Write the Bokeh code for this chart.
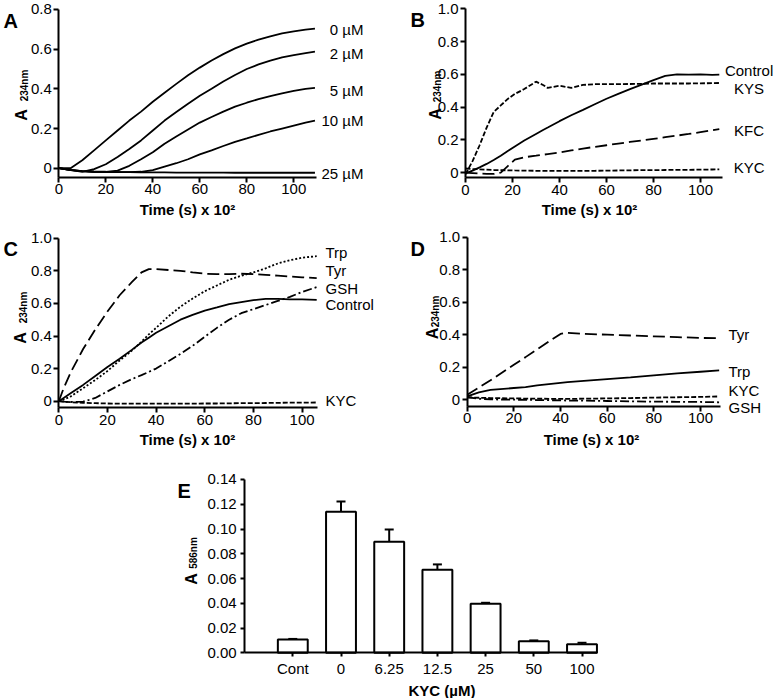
from math import pi
from bokeh.plotting import figure
from bokeh.models import Label, FixedTicker, Range1d, Whisker, ColumnDataSource, TeeHead, NumeralTickFormatter
from bokeh.layouts import column, row
from bokeh.embed import file_html
from bokeh.resources import INLINE

FONT = "Liberation Sans"

# ---------------- data ----------------
a_time = [0, 5, 10, 15, 20, 25, 30, 35, 40, 45, 50, 55, 60, 65, 70, 75, 80, 85, 90, 95, 100, 105, 109]
a_0uM = [0.0, 0.0, 0.04, 0.09, 0.14, 0.19, 0.24, 0.285, 0.335, 0.38, 0.425, 0.468, 0.507, 0.543, 0.575, 0.604, 0.628, 0.648, 0.665, 0.68, 0.69, 0.698, 0.703]
a_2uM = [0.0, -0.008, -0.018, -0.005, 0.02, 0.057, 0.097, 0.14, 0.19, 0.24, 0.283, 0.325, 0.365, 0.4, 0.437, 0.47, 0.5, 0.523, 0.542, 0.558, 0.57, 0.58, 0.588]
a_5uM = [0.0, -0.008, -0.015, -0.018, -0.018, -0.012, 0.012, 0.045, 0.08, 0.123, 0.16, 0.195, 0.23, 0.258, 0.285, 0.31, 0.33, 0.348, 0.363, 0.377, 0.39, 0.4, 0.405]
a_10uM = [0.0, -0.01, -0.015, -0.018, -0.02, -0.02, -0.02, -0.018, -0.01, 0.008, 0.025, 0.045, 0.07, 0.09, 0.112, 0.133, 0.15, 0.168, 0.185, 0.2, 0.215, 0.23, 0.24]
a_25uM = [0.0, -0.01, -0.015, -0.018, -0.019, -0.02, -0.02, -0.021, -0.021, -0.021, -0.022, -0.022, -0.022, -0.022, -0.022, -0.023, -0.023, -0.023, -0.023, -0.023, -0.023, -0.023, -0.023]
a_names = ["0 µM", "2 µM", "5 µM", "10 µM", "25 µM"]
a_label_y = [0.697, 0.576, 0.392, 0.24, -0.029]

b_time = [0, 3, 6, 9, 12, 15, 18, 21, 25, 30, 33, 35, 40, 45, 50, 55, 60, 65, 70, 75, 80, 85, 90, 95, 100, 105, 108]
b_control = [-0.005, 0.012, 0.032, 0.053, 0.077, 0.103, 0.132, 0.16, 0.196, 0.236, 0.26, 0.275, 0.314, 0.35, 0.383, 0.417, 0.451, 0.481, 0.51, 0.537, 0.565, 0.59, 0.6, 0.598, 0.6, 0.597, 0.598]
b_kys = [-0.01, 0.07, 0.167, 0.275, 0.37, 0.41, 0.45, 0.48, 0.51, 0.555, 0.535, 0.517, 0.53, 0.517, 0.535, 0.54, 0.54, 0.54, 0.541, 0.542, 0.544, 0.544, 0.544, 0.544, 0.545, 0.546, 0.547]
b_kfc = [0.0, -0.003, -0.006, -0.008, -0.008, 0.0, 0.04, 0.079, 0.094, 0.103, 0.109, 0.113, 0.123, 0.135, 0.147, 0.157, 0.167, 0.177, 0.187, 0.196, 0.206, 0.216, 0.226, 0.236, 0.247, 0.258, 0.265]
b_kyc = [0.025, 0.022, 0.02, 0.018, 0.016, 0.015, 0.014, 0.013, 0.012, 0.011, 0.01, 0.01, 0.01, 0.01, 0.01, 0.011, 0.012, 0.013, 0.014, 0.015, 0.015, 0.016, 0.017, 0.017, 0.018, 0.019, 0.02]
b_names = ["Control", "KYS", "KFC", "KYC"]
b_label_y = [0.622, 0.515, 0.257, 0.033]

c_time = [0, 2, 5, 10, 15, 20, 25, 30, 34, 37, 40, 45, 50, 55, 60, 65, 70, 75, 80, 85, 90, 95, 100, 106]
c_control = [0.0, 0.02, 0.05, 0.1, 0.155, 0.21, 0.26, 0.315, 0.36, 0.39, 0.42, 0.46, 0.5, 0.53, 0.556, 0.575, 0.595, 0.608, 0.62, 0.628, 0.628, 0.625, 0.625, 0.622]
c_tyr = [0.0, 0.08, 0.18, 0.32, 0.44, 0.55, 0.65, 0.73, 0.79, 0.81, 0.81, 0.805, 0.8, 0.79, 0.782, 0.78, 0.78, 0.782, 0.78, 0.775, 0.77, 0.765, 0.76, 0.755]
c_trp = [0.0, 0.01, 0.03, 0.08, 0.13, 0.185, 0.25, 0.31, 0.365, 0.41, 0.45, 0.52, 0.58, 0.63, 0.675, 0.71, 0.745, 0.77, 0.79, 0.815, 0.845, 0.865, 0.88, 0.89]
c_gsh = [0.0, -0.003, -0.005, -0.003, 0.02, 0.06, 0.1, 0.135, 0.16, 0.18, 0.2, 0.245, 0.29, 0.34, 0.395, 0.45, 0.5, 0.54, 0.565, 0.59, 0.615, 0.64, 0.67, 0.7]
c_kyc = [0.0, -0.003, -0.006, -0.01, -0.012, -0.014, -0.015, -0.015, -0.015, -0.015, -0.015, -0.015, -0.015, -0.015, -0.014, -0.014, -0.013, -0.012, -0.012, -0.011, -0.01, -0.009, -0.009, -0.008]
c_names = ["Trp", "Tyr", "GSH", "Control", "KYC"]
c_label_y = [0.914, 0.80, 0.689, 0.593, 0.004]

d_time = [0, 5, 10, 20, 25, 30, 40, 43, 50, 60, 70, 80, 90, 100, 108]
d_tyr = [0.03, 0.075, 0.12, 0.215, 0.262, 0.31, 0.405, 0.412, 0.405, 0.4, 0.395, 0.39, 0.385, 0.38, 0.378]
d_trp = [0.02, 0.045, 0.06, 0.072, 0.077, 0.088, 0.104, 0.108, 0.116, 0.127, 0.138, 0.15, 0.162, 0.172, 0.18]
d_kyc = [0.015, 0.012, 0.01, 0.008, 0.007, 0.006, 0.005, 0.005, 0.006, 0.008, 0.01, 0.013, 0.015, 0.017, 0.02]
d_gsh = [0.015, 0.006, 0.002, 0.0, -0.001, -0.002, -0.004, -0.005, -0.006, -0.008, -0.01, -0.012, -0.013, -0.014, -0.016]
d_names = ["Tyr", "Trp", "KYC", "GSH"]
d_label_y = [0.399, 0.173, 0.056, -0.046]

e_categories = ["Cont", "0", "6.25", "12.5", "25", "50", "100"]
e_means = [0.0108, 0.1139, 0.0897, 0.067, 0.0396, 0.0094, 0.007]
e_errors = [0.0004, 0.0083, 0.0099, 0.0044, 0.0008, 0.0006, 0.0011]

time_ticks = [0, 20, 40, 60, 80, 100]
abs_ticks_a = [0, 0.2, 0.4, 0.6, 0.8]
abs_ticks = [0, 0.2, 0.4, 0.6, 0.8, 1.0]
e_ticks = [0, 0.02, 0.04, 0.06, 0.08, 0.10, 0.12, 0.14]

# ---------------- styles / layout ----------------
SOLID, SHORT, LONG, DOT, DASHDOT = "solid", "5 2", "12 5", "2 2", "9 3 2 3"
LW = 1.8
ROW1_H, ROW2_H, ROW3_H = 228, 242, 228
ROW2_TOP = ROW1_H


def make_fig(W, H, px0, kx, py0, ky, xbounds, ybounds):
    """Frame fills the whole canvas; data x=0 sits at pixel px0, y=0 at pixel py0 (from top)."""
    xr = Range1d(-px0 / kx, (W - px0) / kx)
    yr = Range1d(-(H - py0) / ky, py0 / ky)
    p = figure(width=W, height=H, x_range=xr, y_range=yr, output_backend="svg",
               toolbar_location=None, title=None, min_border=0)
    p.outline_line_color = None
    p.grid.visible = False
    p.background_fill_color = "white"
    p.border_fill_color = "white"
    p.yaxis.fixed_location = xbounds[0]
    p.xaxis.fixed_location = ybounds[0]
    p.xaxis.bounds = xbounds
    p.yaxis.bounds = ybounds
    for ax in (p.xaxis, p.yaxis):
        ax.axis_line_width = 2
        ax.axis_line_color = "black"
        ax.major_tick_line_width = 2
        ax.major_tick_line_color = "black"
        ax.major_tick_out = 5
        ax.major_tick_in = 0
        ax.minor_tick_line_color = None
        ax.major_label_text_font = FONT
        ax.major_label_text_font_size = "15px"
        ax.major_label_text_color = "black"
        ax.major_label_standoff = 2
    return p


def txt(p, text, x, ytop, size, bold=False, angle=0.0, align="left", baseline="alphabetic"):
    p.add_layout(Label(x=x, y=p.height - ytop, x_units="screen", y_units="screen", text=text,
                       text_font=FONT, text_font_size=f"{size}px",
                       text_font_style="bold" if bold else "normal", angle=angle,
                       text_align=align, text_baseline=baseline, text_color="black"))


def series_labels(p, names, ys, x, align):
    for n, y in zip(names, ys):
        p.add_layout(Label(x=x, y=y, x_units="screen", y_units="data", text=n,
                           text_font=FONT, text_font_size="15px", text_align=align,
                           text_baseline="middle", text_color="black"))


def ytitle(p, xa, ya, xs, ys, sub):
    txt(p, "A", xa, ya, 16, bold=True, angle=pi / 2, align="center", baseline="middle")
    txt(p, sub, xs, ys, 10, bold=True, angle=pi / 2, align="center", baseline="middle")


def time_panel(p, yticks, letter, lx, lbase, title_x, title_y):
    p.xaxis.ticker = FixedTicker(ticks=time_ticks)
    p.yaxis.ticker = FixedTicker(ticks=yticks)
    p.yaxis.formatter = NumeralTickFormatter(format="0.0")
    p.yaxis.major_label_overrides = {0: "0"}
    txt(p, letter, lx, lbase, 20, bold=True)
    txt(p, "Time (s) x 10²", title_x, title_y, 15, bold=True, align="center", baseline="middle")


# ---------------- panel A ----------------
pA = make_fig(385, ROW1_H, 58.3, 2.35, 167.7, 198.4, (0, 109.5), (-0.045, 0.8))
time_panel(pA, abs_ticks_a, "A", 3, 20, 187, 209)
for ys in (a_0uM, a_2uM, a_5uM, a_10uM, a_25uM):
    pA.line(a_time, ys, line_color="black", line_width=LW)
series_labels(pA, a_names, a_label_y, 363, "right")
ytitle(pA, 21, 114.5, 23.5, 85, "234nm")

# ---------------- panel B ----------------
pB = make_fig(389, ROW1_H, 80.0, 2.35, 172.1, 163.8, (0, 109.2), (-0.03, 1.0))
time_panel(pB, abs_ticks, "B", 25, 19, 204, 209)
for ys, dash in ((b_control, SOLID), (b_kys, SHORT), (b_kfc, LONG), (b_kyc, SHORT)):
    pB.line(b_time, ys, line_color="black", line_width=LW, line_dash=dash)
series_labels(pB, b_names, b_label_y, 363.6, "center")
ytitle(pB, 49.5, 113.5, 51.5, 86, "234nm")

# ---------------- panel C ----------------
oC = 235 - ROW2_TOP
pC = make_fig(385, ROW2_H, 58.3, 2.433, 165.7 + oC, 163.0, (0, 106.2), (-0.04, 1.0))
time_panel(pC, abs_ticks, "C", 3, 13 + oC, 187, 204 + oC)
for ys, dash in ((c_control, SOLID), (c_tyr, LONG), (c_trp, DOT), (c_gsh, DASHDOT), (c_kyc, SHORT)):
    pC.line(c_time, ys, line_color="black", line_width=LW, line_dash=dash)
series_labels(pC, c_names, c_label_y, 325, "left")
ytitle(pC, 19.5, 102.5 + oC, 22.5, 72 + oC, "234nm")

# ---------------- panel D ----------------
pD = make_fig(389, ROW2_H, 81.7, 2.333, 164.2 + oC, 162.5, (0, 108.6), (-0.04, 1.0))
time_panel(pD, abs_ticks, "D", 25, 13 + oC, 206, 204 + oC)
for ys, dash in ((d_tyr, LONG), (d_trp, SOLID), (d_kyc, SHORT), (d_gsh, DASHDOT)):
    pD.line(d_time, ys, line_color="black", line_width=LW, line_dash=dash)
series_labels(pD, d_names, d_label_y, 343, "left")
ytitle(pD, 47, 98 + oC, 50, 76 + oC, "234nm")

# ---------------- panel E ----------------
e_x = list(range(1, len(e_categories) + 1))
e_upper = [m + e for m, e in zip(e_means, e_errors)]
pE = make_fig(774, ROW3_H, 244.1, 48.2, 182.3, 1238.0, (0, 7.33), (0, 0.14))
pE.xaxis.ticker = FixedTicker(ticks=e_x)
pE.xaxis.major_label_overrides = {x: c for x, c in zip(e_x, e_categories)}
pE.xaxis.major_tick_out = 4
pE.xaxis.major_label_standoff = 3
pE.yaxis.ticker = FixedTicker(ticks=e_ticks)
pE.yaxis.formatter = NumeralTickFormatter(format="0.00")
pE.yaxis.major_tick_out = 4
pE.yaxis.major_label_standoff = 4
src = ColumnDataSource(dict(x=e_x, top=e_means, upper=e_upper))
pE.add_layout(Whisker(source=src, base="x", lower="top", upper="upper", line_width=2,
                      line_color="black", lower_head=None,
                      upper_head=TeeHead(size=9, line_width=2, line_color="black")))
pE.vbar(x="x", top="top", width=0.62, source=src, fill_color="white",
        line_color="black", line_width=2)
txt(pE, "E", 177, 20, 20, bold=True)
ytitle(pE, 191, 108.5, 193, 82.5, "586nm")
txt(pE, "KYC (µM)", 441.5, 220, 15, bold=True, align="center", baseline="middle")

layout = column(row(pA, pB), row(pC, pD), pE)
open("out.html", "w").write(file_html(layout, INLINE))
